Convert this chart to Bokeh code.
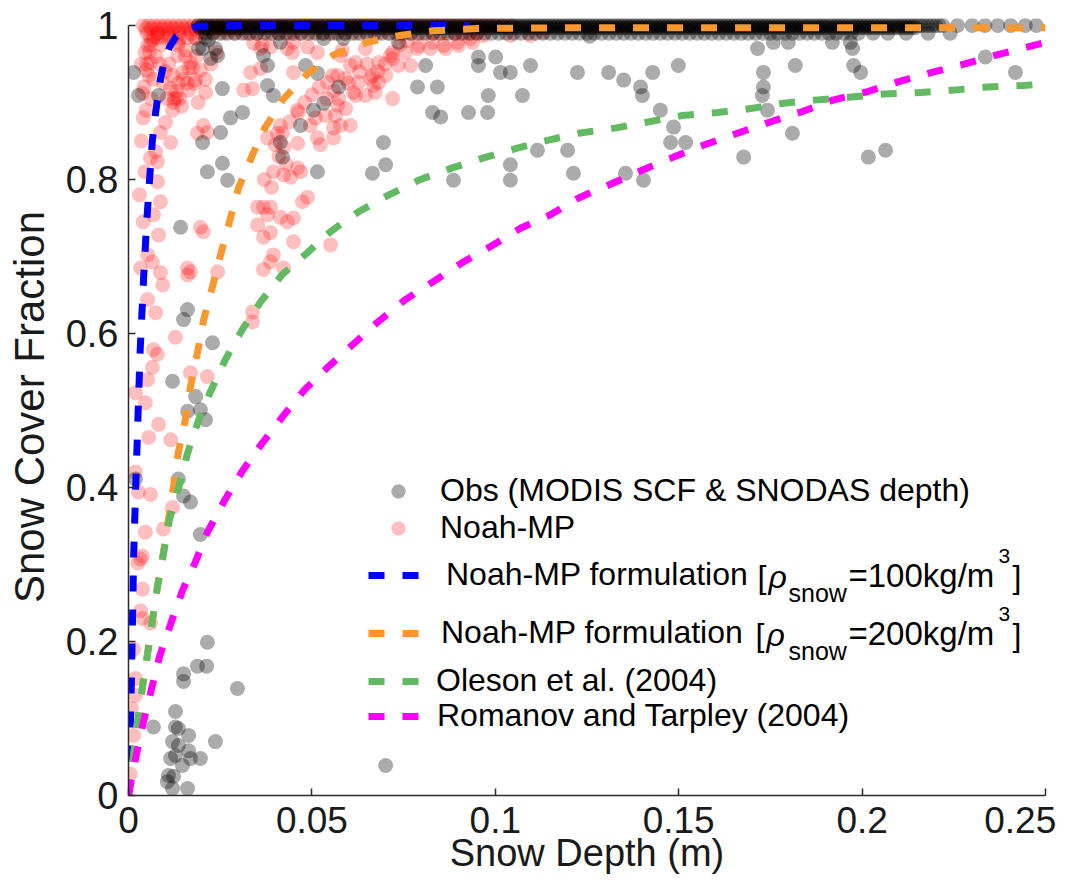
from math import pi
from bokeh.plotting import figure
from bokeh.models import Legend, LegendItem, Label, Range1d
from bokeh.embed import file_html
from bokeh.resources import INLINE

# ---------------- data ----------------
x_ticks = [0, 0.05, 0.1, 0.15, 0.2, 0.25]
x_tick_labels = ["0", "0.05", "0.1", "0.15", "0.2", "0.25\u2008"]
y_ticks = [0, 0.2, 0.4, 0.6, 0.8, 1.0]
y_tick_labels = ["0", "0.2", "0.4", "0.6", "0.8", "1"]

# Noah-MP formulation, rho_snow = 100 kg/m3
blue_d = [0, 0.0004, 0.0008, 0.0011, 0.0014, 0.0019, 0.0025, 0.0032, 0.0041, 0.0049,
          0.0057, 0.0065, 0.0074, 0.0087, 0.0100, 0.0112, 0.0130, 0.0155, 0.0190, 0.0300,
          0.0600, 0.0930]
blue_y = [0, 0.07, 0.15, 0.23, 0.31, 0.39, 0.48, 0.58, 0.67, 0.74,
          0.797, 0.85, 0.887, 0.93, 0.958, 0.972, 0.986, 0.994, 0.999, 1.0,
          1.0, 1.0]

# Noah-MP formulation, rho_snow = 200 kg/m3
orange_d = [0, 0.0014, 0.0025, 0.0038, 0.0052, 0.0065, 0.0079, 0.0095, 0.0109, 0.0123,
            0.0136, 0.0155, 0.0169, 0.0188, 0.0205, 0.0229, 0.0251, 0.0278, 0.0300, 0.0338,
            0.0373, 0.0423, 0.0490, 0.0560, 0.0650, 0.0740, 0.0830, 0.0950, 0.1200, 0.1600,
            0.2000, 0.2500]
orange_y = [0, 0.052, 0.097, 0.141, 0.184, 0.227, 0.271, 0.315, 0.359, 0.402,
            0.446, 0.488, 0.531, 0.575, 0.618, 0.661, 0.702, 0.750, 0.789, 0.832,
            0.868, 0.905, 0.938, 0.962, 0.978, 0.987, 0.993, 0.996, 0.997, 0.997,
            0.997, 0.997]

# Oleson et al. (2004)
green_d = [0, 0.0014, 0.0025, 0.0038, 0.0052, 0.0065, 0.0079, 0.0095, 0.0112, 0.0137,
           0.0160, 0.0190, 0.0224, 0.0264, 0.0310, 0.0360, 0.0420, 0.0488, 0.0550, 0.0627,
           0.0710, 0.0796, 0.0883, 0.0968, 0.1055, 0.1145, 0.1227, 0.1330, 0.1420, 0.1510,
           0.1606, 0.1696, 0.1786, 0.1870, 0.1970, 0.2060, 0.2160, 0.2250, 0.2340, 0.2440,
           0.2500]
green_y = [0, 0.052, 0.097, 0.141, 0.184, 0.227, 0.271, 0.313, 0.359, 0.400,
           0.443, 0.486, 0.525, 0.566, 0.605, 0.641, 0.677, 0.705, 0.732, 0.758,
           0.780, 0.800, 0.815, 0.828, 0.840, 0.851, 0.860, 0.867, 0.875, 0.883,
           0.887, 0.892, 0.899, 0.903, 0.907, 0.911, 0.913, 0.916, 0.920, 0.922,
           0.924]

# Romanov and Tarpley (2004)
magenta_d = [0, 0.0005, 0.0022, 0.0041, 0.0063, 0.0085, 0.0115, 0.0147, 0.0183, 0.0215,
             0.0264, 0.0310, 0.0365, 0.0420, 0.0480, 0.0545, 0.0610, 0.0680, 0.0755, 0.0830,
             0.0910, 0.0987, 0.1070, 0.1150, 0.1227, 0.1320, 0.1400, 0.1486, 0.1570, 0.1660,
             0.1745, 0.1830, 0.1920, 0.2015, 0.2100, 0.2190, 0.2280, 0.2370, 0.2460, 0.2500]
magenta_y = [0, 0.013, 0.054, 0.096, 0.139, 0.181, 0.223, 0.266, 0.304, 0.342,
             0.385, 0.421, 0.458, 0.492, 0.527, 0.557, 0.585, 0.615, 0.644, 0.667,
             0.692, 0.713, 0.737, 0.754, 0.776, 0.795, 0.812, 0.829, 0.845, 0.860,
             0.874, 0.887, 0.903, 0.914, 0.927, 0.939, 0.950, 0.962, 0.973, 0.978]

# Obs (MODIS SCF & SNODAS depth): scattered points
obs_d = [0.0014, 0.0027, 0.0082, 0.0202, 0.0237, 0.0191, 0.0218, 0.0243, 0.0224, 0.0210,
         0.0256, 0.0368, 0.0379, 0.0379, 0.0395, 0.0414, 0.0483, 0.0515, 0.0532, 0.0311,
         0.0278, 0.0251, 0.0202, 0.0504, 0.0532, 0.0469, 0.0414, 0.0420, 0.0256, 0.0215,
         0.0270, 0.0515, 0.0142, 0.0573, 0.0586, 0.0736, 0.0810, 0.0788, 0.0842, 0.0829,
         0.0851, 0.0954, 0.0954, 0.1001, 0.1014, 0.1041, 0.0981, 0.0927, 0.0979, 0.1096,
         0.1224, 0.1074, 0.0695, 0.0701, 0.0665, 0.0886, 0.1041, 0.1041, 0.1115, 0.1197,
         0.1213, 0.1257, 0.1309, 0.1350, 0.1429, 0.1499, 0.1396, 0.1401, 0.1450, 0.1486,
         0.1478, 0.1519, 0.1355, 0.1404, 0.1715, 0.1758, 0.1799, 0.1731, 0.1731, 0.1728,
         0.1742, 0.1818, 0.1810, 0.1677, 0.1919, 0.1968, 0.1974, 0.1977, 0.1996, 0.2336,
         0.2418, 0.2017, 0.2064, 0.0161, 0.0150, 0.0229, 0.0120, 0.0183, 0.0161, 0.0196,
         0.0210, 0.0019, 0.0136, 0.0150, 0.0169, 0.0196, 0.0215, 0.0188, 0.0213, 0.0150,
         0.0150, 0.0297, 0.0128, 0.0068, 0.0128, 0.0136, 0.0164, 0.0120, 0.0136, 0.0237,
         0.0115, 0.0128, 0.0164, 0.0169, 0.0196, 0.0147, 0.0109, 0.0123, 0.0106, 0.0120,
         0.0161, 0.0701]
obs_y = [0.939, 0.909, 0.909, 0.970, 0.970, 0.970, 0.981, 0.961, 0.957, 0.984,
         0.918, 0.961, 0.948, 0.922, 0.909, 0.978, 0.948, 0.938, 0.983, 0.887,
         0.880, 0.861, 0.848, 0.890, 0.899, 0.870, 0.848, 0.829, 0.821, 0.810,
         0.799, 0.810, 0.738, 0.920, 0.983, 0.978, 0.948, 0.920, 0.920, 0.887,
         0.881, 0.959, 0.948, 0.959, 0.939, 0.939, 0.909, 0.887, 0.887, 0.948,
         0.939, 0.909, 0.848, 0.819, 0.808, 0.799, 0.819, 0.799, 0.838, 0.838,
         0.808, 0.986, 0.939, 0.929, 0.939, 0.948, 0.920, 0.909, 0.890, 0.868,
         0.848, 0.848, 0.808, 0.799, 0.970, 0.978, 0.978, 0.939, 0.920, 0.909,
         0.890, 0.948, 0.860, 0.829, 0.978, 0.978, 0.970, 0.948, 0.939, 0.959,
         0.939, 0.829, 0.838, 0.631, 0.618, 0.588, 0.538, 0.518, 0.499, 0.501,
         0.488, 0.411, 0.411, 0.389, 0.381, 0.339, 0.199, 0.168, 0.168, 0.158,
         0.148, 0.139, 0.109, 0.089, 0.089, 0.087, 0.078, 0.070, 0.065, 0.070,
         0.048, 0.052, 0.058, 0.048, 0.048, 0.039, 0.026, 0.025, 0.018, 0.009,
         0.009, 0.039]

# Obs points lying on SCF = 1 (dense band along the top)
obs_full_d = [
    0.019, 0.020, 0.021, 0.022, 0.023, 0.024, 0.025, 0.026, 0.027, 0.028,
    0.029, 0.030, 0.031, 0.032, 0.033, 0.034, 0.035, 0.036, 0.037, 0.038,
    0.039, 0.040, 0.041, 0.042, 0.043, 0.044, 0.045, 0.046, 0.047, 0.048,
    0.049, 0.050, 0.051, 0.052, 0.053, 0.054, 0.055, 0.056, 0.057, 0.058,
    0.059, 0.060, 0.061, 0.062, 0.063, 0.064, 0.065, 0.066, 0.067, 0.068,
    0.069, 0.070, 0.071, 0.072, 0.073, 0.074, 0.075, 0.076, 0.077, 0.078,
    0.079, 0.080, 0.081, 0.082, 0.083, 0.084, 0.085, 0.086, 0.087, 0.088,
    0.089, 0.090, 0.091, 0.092, 0.093, 0.094, 0.095, 0.096, 0.097, 0.098,
    0.099, 0.100, 0.101, 0.102, 0.103, 0.104, 0.105, 0.106, 0.107, 0.108,
    0.109, 0.110, 0.111, 0.112, 0.113, 0.114, 0.115, 0.116, 0.117, 0.118,
    0.119, 0.120, 0.121, 0.122, 0.123, 0.124, 0.125, 0.126, 0.127, 0.128,
    0.129, 0.130, 0.131, 0.132, 0.133, 0.134, 0.135, 0.136, 0.137, 0.138,
    0.139, 0.140, 0.141, 0.142, 0.143, 0.144, 0.145, 0.146, 0.147, 0.148,
    0.149, 0.150, 0.151, 0.152, 0.153, 0.154, 0.155, 0.156, 0.157, 0.158,
    0.159, 0.160, 0.161, 0.162, 0.163, 0.164, 0.165, 0.166, 0.167, 0.168,
    0.169, 0.170, 0.171, 0.172, 0.173, 0.174, 0.175, 0.176, 0.177, 0.178,
    0.179, 0.180, 0.181, 0.182, 0.183, 0.184, 0.185, 0.186, 0.187, 0.188,
    0.189, 0.190, 0.191, 0.192, 0.193, 0.194, 0.195, 0.196, 0.197, 0.198,
    0.199, 0.200, 0.201, 0.202, 0.203, 0.204, 0.205, 0.206, 0.207, 0.208,
    0.209, 0.210, 0.211, 0.212, 0.213, 0.214, 0.215, 0.216, 0.217, 0.218,
    0.219, 0.220, 0.221, 0.222, 0.226, 0.230, 0.2335, 0.237, 0.2405, 0.2445,
    0.2475]
obs_full2_d = [
    0.0195, 0.0205, 0.0215, 0.0225, 0.0235, 0.0245, 0.0255, 0.0265, 0.0275, 0.0285,
    0.0295, 0.0305, 0.0315, 0.0325, 0.0335, 0.0345, 0.0355, 0.0365, 0.0375, 0.0385,
    0.0395, 0.0405, 0.0415, 0.0425, 0.0435, 0.0445, 0.0455, 0.0465, 0.0475, 0.0485,
    0.0495, 0.0505, 0.0515, 0.0525, 0.0535, 0.0545, 0.0555, 0.0565, 0.0575, 0.0585,
    0.0595, 0.0605, 0.0615, 0.0625, 0.0635, 0.0645, 0.0655, 0.0665, 0.0675, 0.0685,
    0.0695, 0.0705, 0.0715, 0.0725, 0.0735, 0.0745, 0.0755, 0.0765, 0.0775, 0.0785,
    0.0795, 0.0805, 0.0815, 0.0825, 0.0835, 0.0845, 0.0855, 0.0865, 0.0875, 0.0885,
    0.0895, 0.0905, 0.0915, 0.0925, 0.0935, 0.0945, 0.0955, 0.0965, 0.0975, 0.0985,
    0.0995, 0.1005, 0.1015, 0.1025, 0.1035, 0.1045, 0.1055, 0.1065, 0.1075, 0.1085,
    0.1095, 0.1105, 0.1115, 0.1125, 0.1135, 0.1145, 0.1155, 0.1165, 0.1175, 0.1185,
    0.1195, 0.1205, 0.1215, 0.1225, 0.1235, 0.1245, 0.1255, 0.1265, 0.1275, 0.1285,
    0.1295, 0.1305, 0.1315, 0.1325, 0.1335, 0.1345, 0.1355, 0.1365, 0.1375, 0.1385,
    0.1395, 0.1405, 0.1415, 0.1425, 0.1435, 0.1445, 0.1455, 0.1465, 0.1475, 0.1485,
    0.1495, 0.1505, 0.1515, 0.1525, 0.1535, 0.1545, 0.1555, 0.1565, 0.1575, 0.1585,
    0.1595, 0.1605, 0.1615, 0.1625, 0.1635, 0.1645, 0.1655, 0.1665, 0.1675, 0.1685,
    0.1695, 0.1705, 0.1715, 0.1725, 0.1735, 0.1745, 0.1755, 0.1765, 0.1775, 0.1785,
    0.1795, 0.1805, 0.1815, 0.1825, 0.1835, 0.1845, 0.1855, 0.1865, 0.1875, 0.1885,
    0.1895, 0.1905, 0.1915, 0.1925, 0.1935, 0.1945, 0.1955, 0.1965, 0.1975, 0.1985,
    0.1995, 0.2005, 0.2015, 0.2025, 0.2035, 0.2045, 0.2055, 0.2065, 0.2075, 0.2085,
    0.2095, 0.2105, 0.2115, 0.2125, 0.2135, 0.2145]
# Obs points just under SCF = 1
obs_near_d = [
    0.021, 0.023, 0.025, 0.027, 0.029, 0.031, 0.033, 0.035, 0.037, 0.039,
    0.041, 0.043, 0.045, 0.047, 0.049, 0.051, 0.053, 0.055, 0.057, 0.059,
    0.061, 0.063, 0.065, 0.067, 0.069, 0.071, 0.073, 0.075, 0.077, 0.079,
    0.081, 0.083, 0.085, 0.087, 0.089, 0.091, 0.093, 0.095, 0.097, 0.099,
    0.101, 0.103, 0.105, 0.107, 0.109, 0.111, 0.113, 0.115, 0.117, 0.119,
    0.121, 0.123, 0.125, 0.127, 0.129, 0.131, 0.133, 0.135, 0.137, 0.139,
    0.141, 0.143, 0.145, 0.147, 0.149, 0.151, 0.153, 0.155, 0.157, 0.159,
    0.161, 0.163, 0.165, 0.167, 0.169, 0.171, 0.173, 0.175, 0.177, 0.179,
    0.181, 0.183, 0.185, 0.187, 0.189, 0.191, 0.193, 0.195, 0.197, 0.199,
    0.203, 0.207, 0.212, 0.218, 0.224]

# Noah-MP simulated points: scattered
sim_d = [0.0060, 0.0052, 0.0057, 0.0065, 0.0049, 0.0038, 0.0115, 0.0123, 0.0131, 0.0101,
         0.0087, 0.0074, 0.0115, 0.0060, 0.0079, 0.0134, 0.0155, 0.0169, 0.0147, 0.0183,
         0.0164, 0.0196, 0.0210, 0.0136, 0.0183, 0.0079, 0.0087, 0.0068, 0.0082, 0.0052,
         0.0065, 0.0033, 0.0204, 0.0188, 0.0215, 0.0314, 0.0333, 0.0360, 0.0360, 0.0387,
         0.0433, 0.0450, 0.0450, 0.0543, 0.0496, 0.0515, 0.0523, 0.0559, 0.0414, 0.0379,
         0.0406, 0.0423, 0.0461, 0.0395, 0.0423, 0.0461, 0.0469, 0.0442, 0.0488, 0.0474,
         0.0450, 0.0352, 0.0368, 0.0387, 0.0379, 0.0414, 0.0433, 0.0352, 0.0387, 0.0368,
         0.0450, 0.0196, 0.0204, 0.0395, 0.0387, 0.0423, 0.0368, 0.0169, 0.0161, 0.0243,
         0.0551, 0.0087, 0.0093, 0.0161, 0.0052, 0.0074, 0.0128, 0.0068, 0.0079, 0.0065,
         0.0052, 0.0019, 0.0046, 0.0169, 0.0215, 0.0338, 0.0338, 0.0082, 0.0055, 0.0115,
         0.0019, 0.0060, 0.0027, 0.0120, 0.0046, 0.0095, 0.0038, 0.0025, 0.0033, 0.0038,
         0.0033, 0.0038, 0.0060, 0.0019, 0.0019, 0.0014, 0.0005, 0.0014, 0.0008,
         0.0338, 0.0341, 0.0365, 0.0447, 0.0488, 0.0515, 0.0556, 0.0592, 0.0583, 0.0619,
         0.0646, 0.0627, 0.0665, 0.0682, 0.0701, 0.0660, 0.0668, 0.0619, 0.0646, 0.0673,
         0.0682, 0.0720, 0.0736, 0.0755, 0.0720, 0.0791, 0.0829, 0.0864, 0.0900, 0.0938,
         0.0573, 0.0592, 0.0564, 0.0463, 0.0510, 0.0537, 0.0578, 0.0605, 0.0570, 0.0613,
         0.0570, 0.0578, 0.0605, 0.0559, 0.0714, 0.0788, 0.0769, 0.0823, 0.0859, 0.0897,
         0.0932, 0.0968, 0.1041, 0.1096, 0.1131,
         0.0045, 0.0050, 0.0055, 0.0042, 0.0060, 0.0070, 0.0080, 0.0035, 0.0048, 0.0068,
         0.0090, 0.0110, 0.0075, 0.0062, 0.0110, 0.0120, 0.0135, 0.0150, 0.0165, 0.0180,
         0.0125, 0.0145, 0.0190, 0.0210, 0.0225, 0.0240, 0.0155, 0.0135, 0.0040, 0.0035,
         0.0045, 0.0030, 0.0040,
         0.0060, 0.0080, 0.0100, 0.0120, 0.0140, 0.0160, 0.0180,
         0.0130, 0.0140, 0.0160, 0.0175, 0.0185, 0.0120, 0.0105, 0.0095, 0.0100, 0.0085,
         0.0400, 0.0420, 0.0440, 0.0460, 0.0480, 0.0500, 0.0520, 0.0540, 0.0560, 0.0600,
         0.0630, 0.0650, 0.0680, 0.0700, 0.0720, 0.0740, 0.0760, 0.0430, 0.0410, 0.0370,
         0.0390]
sim_y = [0.952, 0.974, 0.965, 0.981, 0.942, 0.912, 0.918, 0.900, 0.906, 0.874,
         0.861, 0.836, 0.848, 0.828, 0.823, 0.961, 0.968, 0.952, 0.939, 0.929,
         0.916, 0.942, 0.913, 0.978, 0.983, 0.797, 0.771, 0.754, 0.728, 0.702,
         0.693, 0.685, 0.870, 0.860, 0.861, 0.916, 0.939, 0.944, 0.970, 0.972,
         0.970, 0.978, 0.939, 0.926, 0.870, 0.854, 0.845, 0.867, 0.870, 0.854,
         0.860, 0.842, 0.847, 0.810, 0.806, 0.815, 0.810, 0.803, 0.777, 0.771,
         0.750, 0.764, 0.764, 0.764, 0.754, 0.751, 0.745, 0.741, 0.731, 0.725,
         0.719, 0.738, 0.732, 0.702, 0.693, 0.685, 0.683, 0.680, 0.685, 0.680,
         0.715, 0.679, 0.663, 0.676, 0.644, 0.627, 0.595, 0.579, 0.573, 0.556,
         0.540, 0.523, 0.510, 0.549, 0.544, 0.628, 0.615, 0.482, 0.465, 0.462,
         0.420, 0.391, 0.394, 0.374, 0.342, 0.346, 0.311, 0.302, 0.307, 0.268,
         0.240, 0.230, 0.224, 0.152, 0.130, 0.078, 0.028, 0.190, 0.113,
         0.918, 0.977, 0.974, 0.965, 0.972, 0.965, 0.935, 0.931, 0.968, 0.952,
         0.970, 0.926, 0.935, 0.926, 0.935, 0.931, 0.922, 0.909, 0.909, 0.913,
         0.952, 0.957, 0.948, 0.965, 0.905, 0.974, 0.978, 0.970, 0.974, 0.978,
         0.905, 0.892, 0.883, 0.887, 0.880, 0.883, 0.961, 0.948, 0.935, 0.913,
         0.896, 0.870, 0.870, 0.854, 0.961, 0.970, 0.948, 0.970, 0.974, 0.978,
         0.983, 0.987, 0.987, 0.987, 0.991,
         0.965, 0.950, 0.935, 0.920, 0.975, 0.985, 0.990, 0.950, 0.890, 0.930,
         0.975, 0.985, 0.960, 0.905, 0.950, 0.935, 0.925, 0.930, 0.945, 0.925,
         0.905, 0.895, 0.900, 0.930, 0.950, 0.965, 0.960, 0.975, 0.880, 0.850,
         0.810, 0.780, 0.745,
         0.984, 0.984, 0.984, 0.984, 0.984, 0.984, 0.984,
         0.915, 0.905, 0.925, 0.945, 0.960, 0.890, 0.905, 0.925, 0.940, 0.950,
         0.845, 0.860, 0.875, 0.890, 0.900, 0.910, 0.920, 0.905, 0.915, 0.925,
         0.940, 0.950, 0.940, 0.950, 0.965, 0.975, 0.980, 0.820, 0.830, 0.800,
         0.790]

# Noah-MP simulated points on SCF = 1 and just below
sim_full_d = [
    0.0040, 0.0055, 0.0070, 0.0085, 0.0100, 0.0115, 0.0130, 0.0145, 0.0160, 0.0175,
    0.0190, 0.0205, 0.0220, 0.0235, 0.0250, 0.0265, 0.0280, 0.0295, 0.0310, 0.0325,
    0.0340, 0.0355, 0.0370, 0.0385, 0.0400, 0.0415, 0.0430, 0.0445, 0.0460, 0.0475,
    0.0490, 0.0505, 0.0520, 0.0535, 0.0550, 0.0565, 0.0580, 0.0595, 0.0610, 0.0625,
    0.0640, 0.0655, 0.0670, 0.0685, 0.0700, 0.0715, 0.0730, 0.0745, 0.0760, 0.0775,
    0.0790, 0.0805, 0.0820, 0.0835, 0.0850, 0.0865, 0.0880, 0.0895, 0.0910, 0.0925,
    0.0940, 0.0955, 0.0970, 0.0985, 0.1000, 0.1020, 0.1045]
sim_full2_d = [
    0.0047, 0.0062, 0.0077, 0.0092, 0.0107, 0.0122, 0.0137, 0.0152, 0.0167, 0.0182,
    0.0197, 0.0212, 0.0227, 0.0242, 0.0257, 0.0272, 0.0287, 0.0302]
sim_near_d = [
    0.005, 0.008, 0.011, 0.014, 0.017, 0.020, 0.023, 0.026, 0.029, 0.032,
    0.035, 0.038, 0.041, 0.044, 0.047, 0.050, 0.053, 0.056, 0.059, 0.062,
    0.065, 0.068, 0.071, 0.074, 0.077, 0.080, 0.083, 0.086, 0.089, 0.092,
    0.095]

all_obs_d = obs_d + obs_full_d + obs_full2_d + obs_near_d
all_obs_y = (obs_y + [1.0] * len(obs_full_d) + [0.997] * len(obs_full2_d)
             + [0.99] * len(obs_near_d))
all_sim_d = sim_d + sim_full_d + sim_full2_d + sim_near_d
all_sim_y = (sim_y + [1.0] * len(sim_full_d) + [0.996] * len(sim_full2_d)
             + [0.99] * len(sim_near_d))

# ---------------- figure ----------------
FONT = "Liberation Sans"
p = figure(width=1066, height=876, output_backend="svg", toolbar_location=None,
           x_range=Range1d(0, 0.25), y_range=Range1d(0, 1.009),
           min_border_left=128, min_border_right=21, min_border_top=18,
           min_border_bottom=79)
p.outline_line_color = None
p.grid.visible = False
p.background_fill_color = "white"

for ax, ticks, labels in ((p.xaxis, x_ticks, x_tick_labels), (p.yaxis, y_ticks, y_tick_labels)):
    ax.ticker = ticks
    ax.major_label_overrides = {t: l for t, l in zip(ticks, labels)}
    ax.axis_line_color = "#2b2b2b"
    ax.axis_line_width = 1.5
    ax.major_tick_line_color = "#2b2b2b"
    ax.major_tick_line_width = 1.5
    ax.major_tick_in = 7
    ax.major_tick_out = 0
    ax.minor_tick_line_color = None
    ax.major_label_text_font = FONT
    ax.major_label_text_color = "#1a1a1a"
    ax.axis_label_text_font = FONT
    ax.axis_label_text_font_style = "normal"
    ax.axis_label_text_color = "#1a1a1a"
p.xaxis.major_label_text_font_size = "37px"
p.yaxis.major_label_text_font_size = "38px"
p.xaxis.major_label_standoff = 4
p.yaxis.major_label_standoff = 10
p.xaxis.bounds = (0, 0.25)
p.yaxis.bounds = (0, 1)
p.xaxis.axis_label = "Snow Depth (m)"
p.xaxis.axis_label_text_font_size = "38px"
p.xaxis.axis_label_standoff = -12
p.yaxis.axis_label = "Snow Cover Fraction"
p.yaxis.axis_label_text_font_size = "42px"
p.yaxis.axis_label_standoff = 10

r_sim = p.scatter(all_sim_d, all_sim_y, size=15, fill_color="red", fill_alpha=0.25,
                  line_color=None)
r_obs = p.scatter(all_obs_d, all_obs_y, size=15, fill_color="black", fill_alpha=0.33,
                  line_color=None)

dash = "16 18"
r_blue = p.line(blue_d, blue_y, line_color="#0000FF", line_width=7, line_dash=dash)
r_orange = p.line(orange_d, orange_y, line_color="#F8982E", line_width=7, line_dash=dash)
r_green = p.line(green_d, green_y, line_color="#62BB62", line_width=7, line_dash=dash)
r_magenta = p.line(magenta_d, magenta_y, line_color="#FF00FF", line_width=7, line_dash=dash)

# legend: one box per entry (y centre, glyph left, text start) in picture pixels
FX, FY = 128, 797
entries = [
    (r_obs, "Obs (MODIS SCF & SNODAS depth)", 493, 372, 440),
    (r_sim, "Noah-MP", 530, 372, 440),
    (r_blue, "Noah-MP formulation", 577, 368, 446),
    (r_orange, "Noah-MP formulation", 635, 368, 441),
    (r_green, "Oleson et al. (2004)", 683, 368, 436),
    (r_magenta, "Romanov and Tarpley (2004)", 718, 368, 437),
]
for rend, lab, yc, gx, tx in entries:
    leg = Legend(items=[LegendItem(label=lab, renderers=[rend])],
                 location=(gx - FX, FY - yc - 18), padding=0, margin=0, spacing=0,
                 border_line_color=None, background_fill_alpha=0,
                 glyph_width=52, glyph_height=36, label_height=36,
                 label_standoff=tx - gx - 52, label_text_font=FONT,
                 label_text_font_size="32px", label_text_color="black")
    p.add_layout(leg)

def add_text(txt, px, py, size, style="normal"):
    p.add_layout(Label(x=px - FX, y=FY - py, x_units="screen", y_units="screen", text=txt,
                       text_align="left", text_baseline="middle", text_font=FONT,
                       text_font_size=size, text_font_style=style, text_color="black"))

for yc, dens, bx in ((577, "=100kg/m", 757), (635, "=200kg/m", 755)):
    add_text("[", bx, yc + 1, "32px")
    add_text("ρ", bx + 11, yc + 1, "32px", "italic")
    add_text("snow", 788, yc + 17, "25px")
    add_text(dens, 848, yc, "33px")
    add_text("3", 998, yc - 20, "21px")
    add_text("]", 1012, yc + 1, "32px")

open("out.html", "w").write(file_html(p, INLINE))
